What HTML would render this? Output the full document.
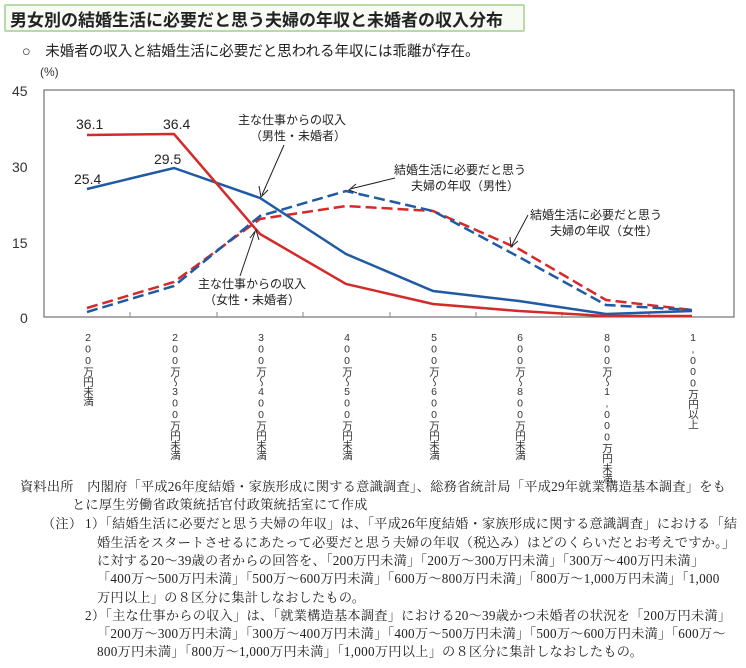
<!DOCTYPE html>
<html><head><meta charset="utf-8"><style>
body{margin:0;width:746px;height:668px;background:#fff;position:relative;overflow:hidden;font-family:"Liberation Sans","Noto Sans CJK JP",sans-serif;color:#222}
.t{position:absolute;white-space:nowrap}
.n{font-family:"Liberation Serif","Noto Serif CJK SC",serif;font-size:13.2px;color:#222;letter-spacing:0.25px}
.v{position:absolute;writing-mode:vertical-rl;text-orientation:upright;font-size:10.5px;line-height:11px;letter-spacing:-0.6px;color:#333}
</style></head><body>
<div class="t" style="left:4px;top:4px;width:517px;height:24px;border:2px solid #b9d9a9;border-radius:2px;background:#f7fbf3"></div>
<div class="t" style="left:10px;top:6px;font-size:17px;font-weight:bold;color:#222">男女別の結婚生活に必要だと思う夫婦の年収と未婚者の収入分布</div>
<div class="t" style="left:22px;top:40px;font-size:14.5px">○　未婚者の収入と結婚生活に必要だと思われる年収には乖離が存在。</div>
<svg class="t" style="left:0;top:0" width="746" height="475" font-family="Liberation Sans,Noto Sans CJK JP,sans-serif">
<rect x="44" y="90" width="690" height="227" fill="none" stroke="#555" stroke-width="1"/>
<g stroke="#888" stroke-width="1">
<line x1="130" y1="317" x2="130" y2="312"/><line x1="217" y1="317" x2="217" y2="312"/><line x1="303" y1="317" x2="303" y2="312"/><line x1="390" y1="317" x2="390" y2="312"/><line x1="476" y1="317" x2="476" y2="312"/><line x1="562" y1="317" x2="562" y2="312"/><line x1="649" y1="317" x2="649" y2="312"/>
</g>
<g font-size="14" fill="#333">
<text x="12" y="96">45</text><text x="12" y="172">30</text><text x="12" y="248">15</text><text x="20" y="323">0</text>
<text x="40" y="76" font-size="12">(%)</text>
</g>
<polyline fill="none" stroke="#d52a2a" stroke-width="2.5" stroke-dasharray="11,5" points="87,308 174,282 260,219 346,206 433,211 519,249 606,300 692,310"/>
<polyline fill="none" stroke="#1f5aa3" stroke-width="2.5" stroke-dasharray="11,5" points="87,312 174,286 260,216 346,191 433,211 519,257 606,305 692,310"/>
<polyline fill="none" stroke="#1f5aa3" stroke-width="2.5" points="87,189 174,168 260,198 346,254 433,291 519,301 606,314 692,311"/>
<polyline fill="none" stroke="#d52a2a" stroke-width="2.5" points="87,135 174,134 260,234 346,284 433,304 519,311 606,316 692,316"/>
<g font-size="14" fill="#222"><text x="76" y="129">36.1</text><text x="163" y="129">36.4</text><text x="74" y="184">25.4</text><text x="154" y="164">29.5</text></g>
<g font-size="12" fill="#222">
<text x="238" y="124">主な仕事からの収入</text><text x="250" y="140">（男性・未婚者）</text>
<text x="394" y="174">結婚生活に必要だと思う</text><text x="411" y="190">夫婦の年収（男性）</text>
<text x="530" y="219">結婚生活に必要だと思う</text><text x="550" y="235">夫婦の年収（女性）</text>
<text x="198" y="288">主な仕事からの収入</text><text x="204" y="304">（女性・未婚者）</text>
</g>
<g stroke="#222" stroke-width="1" fill="none">
<line x1="284" y1="145" x2="262" y2="195"/><polyline points="259,186 261,197 268,190"/>
<line x1="395" y1="178" x2="350" y2="189"/><polyline points="356,184 349,190 357,193"/>
<line x1="528" y1="215" x2="512" y2="245"/><polyline points="510,237 511,247 518,241"/>
<line x1="240" y1="276" x2="255" y2="232"/><polyline points="250,238 256,230 259,240"/>
</g>
</svg>
<div class="v" style="left:82px;top:332px">200万円未満</div>
<div class="v" style="left:169px;top:332px">200万～300万円未満</div>
<div class="v" style="left:255px;top:332px">300万～400万円未満</div>
<div class="v" style="left:341px;top:332px">400万～500万円未満</div>
<div class="v" style="left:428px;top:332px">500万～600万円未満</div>
<div class="v" style="left:514px;top:332px">600万～800万円未満</div>
<div class="v" style="left:601px;top:332px">800万～1,000万円未満</div>
<div class="v" style="left:687px;top:332px">1,000万円以上</div>
<div class="t n" style="left:20px;top:476px">資料出所　内閣府「平成26年度結婚・家族形成に関する意識調査」、総務省統計局「平成29年就業構造基本調査」をも</div>
<div class="t n" style="left:72px;top:494px">とに厚生労働省政策統括官付政策統括室にて作成</div>
<div class="t n" style="left:42px;top:513px">（注）</div>
<div class="t n" style="left:85px;top:513px">1）「結婚生活に必要だと思う夫婦の年収」は、「平成26年度結婚・家族形成に関する意識調査」における「結</div>
<div class="t n" style="left:97px;top:532px">婚生活をスタートさせるにあたって必要だと思う夫婦の年収（税込み）はどのくらいだとお考えですか。」</div>
<div class="t n" style="left:97px;top:550px">に対する20～39歳の者からの回答を、「200万円未満」「200万～300万円未満」「300万～400万円未満」</div>
<div class="t n" style="left:97px;top:568px">「400万～500万円未満」「500万～600万円未満」「600万～800万円未満」「800万～1,000万円未満」「1,000</div>
<div class="t n" style="left:97px;top:587px">万円以上」の８区分に集計しなおしたもの。</div>
<div class="t n" style="left:85px;top:605px">2）「主な仕事からの収入」は、「就業構造基本調査」における20～39歳かつ未婚者の状況を「200万円未満」</div>
<div class="t n" style="left:97px;top:623px">「200万～300万円未満」「300万～400万円未満」「400万～500万円未満」「500万～600万円未満」「600万～</div>
<div class="t n" style="left:97px;top:641px">800万円未満」「800万～1,000万円未満」「1,000万円以上」の８区分に集計しなおしたもの。</div>
</body></html>
